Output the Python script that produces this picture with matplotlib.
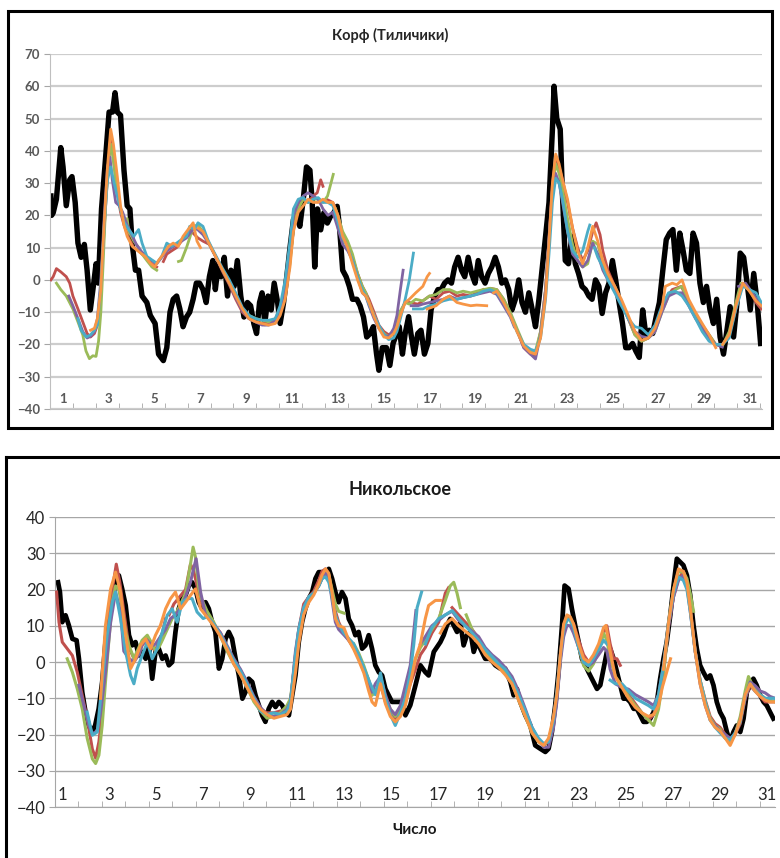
import numpy as np
import matplotlib.pyplot as plt
from matplotlib.lines import Line2D

plt.rcParams['font.family'] = ['Lato', 'Open Sans', 'DejaVu Sans']

# ---- Корф (Тиличики) : (day, temperature) pairs ----
korf_obs = [(0.47, 26), (0.5, 20), (0.57, 20.8), (0.71, 25), (0.9, 41), (1.0, 35), (1.14, 23), (1.29, 31),
            (1.39, 32), (1.53, 24), (1.65, 11.4), (1.79, 7), (1.93, 11), (2.05, 3), (2.19, -9.3), (2.34, -1),
            (2.44, 5), (2.54, -1), (2.68, 22), (2.87, 39), (3.01, 52), (3.16, 52), (3.27, 58), (3.37, 52),
            (3.51, 51), (3.66, 34), (3.8, 23), (3.92, 22), (4.02, 11), (4.16, 3), (4.3, 3), (4.45, -5),
            (4.66, -7), (4.81, -11), (5.02, -13.5), (5.17, -23), (5.38, -25), (5.53, -21), (5.67, -10),
            (5.81, -6), (5.96, -5), (6.1, -9), (6.24, -14.5), (6.39, -11.5), (6.53, -10), (6.68, -6),
            (6.82, -1), (6.96, -1), (7.11, -3), (7.25, -7), (7.39, 1), (7.54, 6), (7.65, -3), (7.78, 5),
            (7.9, 1), (8.04, 7), (8.18, -5), (8.33, 3), (8.47, -2), (8.61, 6), (8.76, -5), (8.9, -11.5),
            (9.05, -7), (9.19, -8), (9.33, -13.5), (9.45, -16.6), (9.58, -7), (9.69, -4), (9.81, -13.5),
            (9.95, -5), (10.09, -9.3), (10.22, -1), (10.37, -7), (10.48, -13.5), (10.63, -7), (10.77, 1),
            (10.91, 10), (11.06, 18.7), (11.2, 19.7), (11.34, 16.6), (11.49, 25), (11.63, 35), (11.78, 34),
            (11.88, 24), (11.99, 4), (12.11, 22), (12.25, 15.5), (12.39, 20.8), (12.54, 17.6), (12.68, 19.7),
            (12.82, 20.8), (12.97, 22.8), (13.07, 16.6), (13.21, 3), (13.36, 1), (13.5, -2), (13.64, -6),
            (13.83, -6), (13.97, -8), (14.12, -11.5), (14.26, -17.7), (14.41, -16.6), (14.55, -14.5),
            (14.69, -23), (14.79, -28), (14.94, -21), (15.12, -21), (15.27, -26.5), (15.41, -19.7),
            (15.68, -14.5), (15.82, -23), (15.94, -16.6), (16.09, -11.4), (16.19, -16.6), (16.34, -23),
            (16.49, -16.6), (16.63, -15.6), (16.78, -23), (16.93, -19.7), (17.07, -9.3), (17.22, -5.2),
            (17.37, -3), (17.51, -3), (17.66, -1), (17.81, 0), (17.96, -1), (18.1, 4), (18.25, 7), (18.4, 3),
            (18.54, 1), (18.69, 7), (18.84, 2), (18.99, -1), (19.13, 6), (19.28, 1), (19.43, -1), (19.57, 2),
            (19.72, 4), (19.87, 7), (20.01, 4), (20.16, -1), (20.31, 0), (20.46, -3), (20.6, -9.3),
            (20.75, -6), (20.9, 0), (21.04, -7), (21.19, -10), (21.34, -4), (21.49, -9.3), (21.63, -14.5),
            (21.78, -6), (21.93, 4), (22.07, 13.5), (22.22, 24), (22.37, 46.7), (22.44, 60), (22.56, 50),
            (22.71, 46.7), (22.81, 26), (22.93, 6), (23.07, 5), (23.22, 13.5), (23.37, 5), (23.51, 2),
            (23.66, -2), (23.81, -3), (23.96, -5), (24.1, -6), (24.25, 0), (24.4, -2), (24.54, -10.4),
            (24.69, -4), (24.84, -1), (24.99, 6), (25.13, 0), (25.28, -7), (25.43, -13.5), (25.57, -21),
            (25.72, -21), (25.87, -19.7), (26.01, -22), (26.16, -24), (26.31, -9.3), (26.46, -17.7),
            (26.6, -15.6), (26.75, -16.6), (26.9, -11.4), (27.04, -7), (27.19, 3), (27.34, 12.5),
            (27.49, 14.5), (27.63, 15.6), (27.78, 3), (27.93, 14.5), (28.07, 9.3), (28.22, 3), (28.37, 2),
            (28.51, 14.5), (28.66, 11.4), (28.81, -1), (28.96, -7), (29.1, -2), (29.25, -9.3), (29.4, -13.5),
            (29.54, -6), (29.69, -17.7), (29.84, -23), (29.99, -15.6), (30.13, -8.3), (30.28, -17.7),
            (30.43, -7), (30.57, 8.3), (30.72, 7), (30.87, -1), (31.01, -9.3), (31.16, 2), (31.31, -7),
            (31.46, -19.7)]

korf_red = [
    [(0.47, 0), (0.57, 1), (0.71, 3.5), (0.9, 2.5), (1.14, 1), (1.29, -1), (1.43, -5), (1.65, -9), (1.86, -13),
     (2.05, -16.6), (2.2, -17.7), (2.37, -16.6), (2.5, -14), (2.65, -3), (2.8, 16), (2.94, 32), (3.08, 44),
     (3.2, 38), (3.37, 27), (3.51, 21), (3.66, 17), (3.87, 13), (4.09, 10), (4.3, 9), (4.45, 8), (4.66, 7),
     (4.88, 5), (5.09, 4)],
    [(5.38, 5.7), (5.53, 8), (5.74, 9), (5.96, 10), (6.17, 12), (6.39, 14), (6.53, 15.5), (6.75, 14),
     (6.89, 13), (7.11, 12), (7.39, 11), (7.68, 7), (7.97, 2.5), (8.26, -1.5), (8.54, -6), (8.83, -10),
     (9.12, -12), (9.41, -13), (9.69, -13.5), (9.98, -13.5), (10.27, -12), (10.48, -9), (10.7, -2),
     (10.91, 8), (11.06, 19), (11.27, 23), (11.49, 25), (11.7, 24), (11.92, 26), (12.1, 27), (12.25, 31),
     (12.35, 29)],
    [(12.5, 25), (12.78, 24), (13.0, 20), (13.21, 14), (13.43, 11), (13.64, 7), (13.86, 2), (14.07, -2),
     (14.22, -4), (14.36, -6), (14.58, -10), (14.79, -14), (15.01, -16), (15.22, -17), (15.44, -16),
     (15.58, -14), (15.73, -10), (15.94, -7), (16.12, -7), (16.5, -7.5), (16.71, -6.5), (17.0, -5),
     (17.29, -6), (17.6, -4), (17.88, -3.5), (18.2, -5), (18.47, -4.5), (18.8, -5), (19.06, -4), (19.35, -3)],
    [(19.5, -3), (19.65, -2.6), (19.94, -3), (20.24, -6), (20.53, -10.4), (20.82, -15.6), (21.12, -21),
     (21.41, -23), (21.63, -23.4), (21.85, -16), (22.07, -3), (22.22, 13), (22.37, 30), (22.51, 37),
     (22.66, 35), (22.81, 31), (23.03, 24), (23.25, 16), (23.47, 10), (23.69, 6), (23.91, 9), (24.13, 15),
     (24.28, 17.7), (24.45, 14), (24.57, 9), (24.79, 3), (25.09, -2), (25.38, -7), (25.68, -12),
     (25.97, -17), (26.26, -19), (26.56, -18), (26.85, -15), (27.0, -12)],
    [(27.3, -6), (27.6, -3), (28.0, -2), (28.32, -7), (28.62, -11), (28.91, -14), (29.21, -17), (29.5, -20),
     (29.79, -20), (30.09, -17), (30.38, -9), (30.68, -1), (30.97, -3), (31.26, -7), (31.49, -9)],
]

korf_green = [
    [(0.71, -1), (0.9, -3), (1.14, -5), (1.43, -9), (1.65, -13), (1.86, -17), (2.0, -22), (2.15, -24.4),
     (2.3, -23.5), (2.44, -23.7), (2.55, -19), (2.65, -10), (2.75, 5), (2.87, 25), (3.0, 38), (3.1, 42),
     (3.23, 35), (3.37, 27), (3.51, 22), (3.66, 18), (3.8, 19), (3.87, 15), (4.09, 12), (4.3, 10),
     (4.45, 8), (4.66, 6), (4.88, 4), (5.09, 3)],
    [(6.04, 5.7), (6.17, 6), (6.39, 10), (6.53, 13), (6.68, 16.6), (6.89, 17), (7.11, 15), (7.39, 11),
     (7.68, 7), (7.97, 3), (8.26, -1), (8.54, -5), (8.83, -9), (9.12, -11), (9.41, -12), (9.69, -12.5),
     (9.98, -13), (10.27, -12.5), (10.48, -10), (10.7, -4), (10.91, 5), (11.06, 16), (11.27, 22),
     (11.49, 25), (11.7, 24), (11.92, 25), (12.14, 25), (12.35, 24), (12.55, 26), (12.7, 30), (12.8, 32.7)],
    [(12.9, 22), (13.0, 20), (13.21, 15), (13.43, 12), (13.64, 8), (13.86, 2), (14.07, -2), (14.22, -4),
     (14.36, -7), (14.58, -11), (14.79, -14.5), (15.01, -16.6), (15.22, -17.7), (15.44, -16.6),
     (15.58, -14), (15.73, -9.6), (15.94, -7), (16.12, -7.5), (16.4, -6), (16.71, -6.5), (17.0, -5),
     (17.29, -4.5), (17.6, -3), (17.88, -3), (18.2, -4), (18.47, -3.5), (18.8, -4), (19.06, -3.5),
     (19.35, -3), (19.65, -2.6), (19.94, -3), (20.24, -6), (20.53, -10), (20.82, -15), (21.12, -20),
     (21.41, -22), (21.63, -22), (21.85, -16), (22.07, -3), (22.22, 12), (22.37, 28), (22.51, 36),
     (22.66, 33), (22.81, 28), (23.03, 19), (23.25, 11), (23.47, 6), (23.69, 4), (23.91, 5), (24.13, 12),
     (24.35, 11), (24.57, 5), (24.79, 1), (25.09, -2), (25.38, -7), (25.68, -12), (25.97, -17),
     (26.26, -19), (26.56, -18), (26.85, -16), (27.15, -10), (27.44, -5), (27.74, -3), (28.03, -2),
     (28.32, -7), (28.62, -11), (28.91, -14), (29.21, -17), (29.5, -20), (29.79, -20.5), (30.09, -16),
     (30.38, -7), (30.6, -1), (30.97, -3), (31.26, -6), (31.49, -8)],
]

korf_purple = [
    [(1.25, -5), (1.43, -8), (1.65, -12), (1.86, -16), (2.05, -18), (2.2, -17.5), (2.37, -16), (2.5, -12),
     (2.65, 0), (2.8, 20), (2.94, 35), (3.05, 38), (3.15, 31), (3.3, 24), (3.45, 23), (3.6, 21), (3.8, 17),
     (4.0, 14), (4.2, 11), (4.4, 9), (4.66, 7), (4.88, 6), (5.09, 5), (5.31, 7), (5.53, 9), (5.74, 10),
     (5.96, 11), (6.17, 12), (6.39, 13), (6.6, 15), (6.75, 16), (6.89, 15.5), (7.11, 14), (7.39, 11),
     (7.68, 7), (7.97, 3), (8.26, -1), (8.54, -5.5), (8.83, -9.5), (9.12, -12), (9.41, -13), (9.69, -14),
     (9.98, -14), (10.27, -12.5), (10.48, -9), (10.7, -2), (10.91, 9), (11.06, 20), (11.27, 24),
     (11.49, 26), (11.7, 27), (11.92, 26), (12.14, 25), (12.35, 22), (12.57, 20), (12.78, 21), (13.0, 16),
     (13.21, 11), (13.43, 9), (13.64, 6), (13.86, 1), (14.07, -4), (14.22, -5), (14.36, -8), (14.58, -12),
     (14.79, -15), (15.01, -17), (15.22, -17.7), (15.44, -15), (15.58, -11), (15.73, -3), (15.85, 3)],
    [(16.2, -8), (16.5, -8), (16.71, -7.5), (17.0, -7), (17.29, -6.5), (17.6, -6), (17.88, -5), (18.2, -6),
     (18.47, -5.5), (18.8, -5), (19.06, -4.5), (19.35, -4), (19.65, -3.5), (19.94, -4.5), (20.24, -8),
     (20.53, -11.5), (20.7, -14.5)],
    [(20.9, -17), (21.12, -21), (21.41, -23), (21.63, -24.5), (21.85, -17), (22.07, -3), (22.22, 13),
     (22.37, 28), (22.51, 33), (22.66, 30), (22.81, 24), (23.03, 15), (23.25, 8), (23.47, 6), (23.69, 4),
     (23.91, 6), (24.13, 11.4), (24.35, 8), (24.57, 3), (24.79, 0), (25.09, -3), (25.38, -7),
     (25.68, -12), (25.97, -16), (26.26, -17.5), (26.56, -18), (26.85, -16), (27.15, -10), (27.44, -5),
     (27.74, -4), (28.03, -4), (28.32, -8), (28.62, -12), (28.91, -15), (29.21, -18), (29.5, -20),
     (29.79, -20.8)],
    [(30.5, -2), (30.8, -1), (31.1, -4), (31.49, -8)],
]

korf_cyan = [
    [(1.65, -12), (1.79, -15.6), (2.01, -17.7), (2.2, -17), (2.37, -15.6), (2.5, -14), (2.65, -2), (2.8, 17),
     (2.94, 31), (3.08, 35), (3.23, 30), (3.37, 26), (3.51, 22), (3.66, 18), (3.87, 15.6), (4.09, 13.5),
     (4.3, 15.6), (4.45, 11.4), (4.66, 7.3), (4.88, 6.2), (5.09, 5.2), (5.31, 7.3), (5.53, 11.4),
     (5.74, 10.4), (5.96, 11.4), (6.17, 12.5), (6.39, 13.5), (6.53, 16.6), (6.75, 15.6), (6.89, 17.7),
     (7.11, 16.6), (7.32, 12.5), (7.54, 9.3), (7.97, 3.5), (8.26, 0), (8.54, -4), (8.83, -8.5),
     (9.12, -11), (9.41, -12), (9.69, -12.5), (9.98, -12.5), (10.27, -12), (10.48, -8), (10.7, 0),
     (10.91, 12), (11.06, 22), (11.27, 25), (11.49, 25.5), (11.7, 24), (11.92, 25), (12.14, 25.5),
     (12.35, 24), (12.57, 24), (12.78, 23), (13.0, 18), (13.21, 13), (13.43, 10), (13.64, 6), (13.86, 1),
     (14.07, -3), (14.22, -5), (14.36, -7.5), (14.58, -11), (14.79, -14), (15.01, -17), (15.22, -18.5),
     (15.44, -18), (15.58, -16), (15.73, -12), (15.94, -6), (16.12, 0), (16.3, 8.3)],
    [(16.3, -9), (16.71, -9), (17.0, -8), (17.29, -7.5), (17.6, -6.5), (17.88, -6), (18.2, -6),
     (18.47, -5.5), (18.8, -5), (19.06, -4.5), (19.35, -3.5), (19.65, -3), (19.94, -4), (20.24, -7),
     (20.53, -11), (20.82, -16), (21.12, -20), (21.41, -21.5), (21.63, -22), (21.85, -18), (22.07, -6),
     (22.22, 8), (22.37, 24), (22.51, 31.5), (22.66, 30), (22.81, 25), (23.03, 15), (23.25, 9),
     (23.47, 7), (23.69, 9), (23.91, 15), (24.0, 17)],
    [(24.2, 10), (24.35, 7), (24.57, 4), (24.79, 0), (25.09, -4), (25.38, -8), (25.68, -12), (25.97, -14.5),
     (26.26, -15), (26.56, -17), (26.85, -14), (27.15, -8), (27.44, -4), (27.74, -3.5), (28.03, -5),
     (28.32, -8), (28.62, -12), (28.91, -16), (29.21, -19), (29.5, -20), (29.79, -20), (30.09, -18),
     (30.38, -9), (30.68, -2), (30.97, -3), (31.26, -4), (31.49, -7)],
]

korf_orange = [
    [(2.2, -15.6), (2.37, -15), (2.5, -12), (2.65, -3), (2.8, 18), (2.94, 35), (3.08, 46.7), (3.2, 42),
     (3.37, 32), (3.51, 23), (3.66, 17), (3.8, 13.5), (4.02, 10.4), (4.3, 8.8), (4.58, 7.3), (4.81, 5.2),
     (5.0, 4), (5.17, 6), (5.38, 8), (5.6, 10.4), (5.81, 11.4), (6.03, 10.4), (6.24, 13.5), (6.46, 15.6),
     (6.68, 17.7), (6.85, 12), (7.0, 10)],
    [(6.9, 16), (7.11, 15), (7.39, 11), (7.68, 7), (7.97, 3), (8.26, -1), (8.54, -5), (8.83, -9), (9.12, -12),
     (9.41, -13), (9.69, -13.5), (9.98, -14), (10.27, -13.5), (10.48, -11), (10.7, -6), (10.91, 4),
     (11.06, 15), (11.27, 21), (11.49, 23), (11.7, 25), (11.92, 24), (12.14, 24), (12.35, 25),
     (12.57, 24), (12.78, 24), (13.0, 20), (13.21, 13.5), (13.43, 10), (13.64, 5), (13.86, 0),
     (14.07, -4), (14.22, -5), (14.36, -7), (14.58, -11.4), (14.79, -15), (15.01, -17.7), (15.22, -18),
     (15.44, -16.6), (15.58, -14.5), (15.73, -11), (15.94, -7), (16.12, -6), (16.4, -4), (16.71, -2),
     (16.9, 1), (17.0, 2)],
    [(16.9, -9), (17.29, -8), (17.6, -6), (17.88, -5), (18.2, -7), (18.47, -7.5), (18.8, -8), (19.06, -7.8),
     (19.5, -8)],
    [(19.8, -4), (19.94, -3.5), (20.24, -7), (20.53, -11), (20.82, -16), (21.12, -20.5), (21.41, -22.5),
     (21.63, -23), (21.85, -18), (22.07, -5), (22.22, 12), (22.37, 30), (22.51, 39), (22.66, 36),
     (22.81, 31), (23.03, 25), (23.25, 16), (23.47, 9), (23.69, 5), (23.91, 10), (24.13, 16.6),
     (24.35, 12), (24.57, 6), (24.79, 2), (25.09, -2), (25.38, -6), (25.68, -11), (25.97, -16),
     (26.26, -18.7), (26.56, -18), (26.85, -15), (27.15, -9), (27.3, -2), (27.6, -1), (27.8, -1.5),
     (28.03, 0), (28.32, -6), (28.62, -10), (28.91, -13.5), (29.21, -17), (29.5, -21)],
    [(29.8, -20), (30.09, -17), (30.38, -8), (30.68, -1), (30.97, -3.5), (31.26, -6.5), (31.49, -8)],
]

# ---- Никольское ----
nik_obs = [(0.82, 22), (0.9, 19.3), (1.0, 11), (1.14, 12.9), (1.28, 10.1), (1.43, 6.4), (1.61, 6), (1.71, 0.9),
           (1.85, -8.3), (1.99, -13.8), (2.13, -17.5), (2.26, -19.3), (2.4, -17.5), (2.55, -12.9), (2.7, -5.5),
           (2.84, 5.5), (2.99, 13.8), (3.13, 17.5), (3.27, 22), (3.41, 23.9), (3.55, 20.2), (3.7, 15.6),
           (3.84, 7.4), (3.98, 4.6), (4.12, 5.5), (4.26, 1.8), (4.41, 2.8), (4.55, 0.9), (4.69, 4.6),
           (4.83, -4.6), (4.97, 2.8), (5.11, 3.7), (5.26, 0.9), (5.4, 1.8), (5.54, -0.9), (5.68, 0),
           (5.82, 8.3), (5.96, 14.7), (6.11, 17.5), (6.25, 18.4), (6.39, 21.1), (6.53, 22), (6.67, 20.2),
           (6.81, 16.5), (6.96, 14.7), (7.1, 16.5), (7.24, 14.7), (7.38, 11), (7.52, 8.3), (7.67, -1.8),
           (7.81, 0.9), (7.95, 6.4), (8.09, 8.3), (8.23, 6.4), (8.38, 0.9), (8.52, -3.7), (8.67, -10.1),
           (8.8, -8.3), (8.94, -4.6), (9.09, -5.5), (9.23, -9.2), (9.37, -11.9), (9.51, -14.7), (9.65, -16.5),
           (9.79, -12.9), (9.94, -11), (10.08, -12.4), (10.22, -11), (10.36, -11.9), (10.5, -13.8),
           (10.65, -14.7), (10.79, -9.2), (10.93, -3.7), (11.07, 5.5), (11.21, 11), (11.35, 14.7),
           (11.5, 17.5), (11.64, 19.3), (11.78, 23), (11.92, 24.8), (12.06, 24.8), (12.21, 23.9),
           (12.35, 25.7), (12.49, 23), (12.63, 19.3), (12.77, 16.5), (12.91, 19.3), (13.06, 17.5),
           (13.2, 11.9), (13.34, 10.1), (13.48, 7.4), (13.62, 8.3), (13.77, 3.7), (13.91, 4.6), (14.05, 7.4),
           (14.19, 3.7), (14.33, -0.9), (14.48, -2.8), (14.62, -3.7), (14.76, -7.4), (14.9, -9.2),
           (15.04, -11), (15.26, -11), (15.47, -11), (15.61, -14.7), (15.82, -11.9), (16.04, -6.4),
           (16.25, -0.9), (16.46, -2.8), (16.6, -3.7), (16.82, 2.8), (17.1, 5.5), (17.24, 7.4), (17.38, 10.1),
           (17.52, 11.9), (17.67, 10.1), (17.81, 8.3), (17.95, 11), (18.09, 4.6), (18.23, 7.4), (18.38, 8.3),
           (18.52, 2.8), (18.66, 5.5), (18.8, 3.7), (19.01, 0.9), (19.23, 0.9), (19.44, -0.9), (19.65, -1.8),
           (19.86, -1.8), (20.08, -5.5), (20.22, -9.2), (20.36, -7.4), (20.5, -11), (20.72, -14.7),
           (20.93, -17.5), (21.14, -23), (21.35, -23.9), (21.57, -24.8), (21.71, -23.9), (21.85, -19.3),
           (21.99, -12), (22.13, -2.8), (22.28, 10.1), (22.39, 21.1), (22.56, 20.2), (22.7, 14.7),
           (22.84, 10.1), (22.99, 5.5), (23.13, 0.9), (23.27, -0.9), (23.41, -2.8), (23.62, -5.5),
           (23.77, -7.4), (23.91, -6.4), (24.05, -1.8), (24.19, 2.8), (24.33, 3.7), (24.48, 0.9),
           (24.62, -2.8), (24.76, -6.4), (24.9, -10.1), (25.04, -10.1), (25.18, -11), (25.33, -12.9),
           (25.47, -12.9), (25.61, -14.7), (25.75, -16.5), (25.89, -16.5), (26.04, -15.6), (26.18, -13.8),
           (26.32, -11), (26.46, -4.6), (26.6, 0.9), (26.74, 5.5), (26.89, 12.9), (27.03, 21.1), (27.17, 28.5),
           (27.31, 27.6), (27.45, 26.7), (27.6, 23.9), (27.74, 18.4), (27.88, 10.1), (28.02, 3.7),
           (28.16, -0.9), (28.3, -2.8), (28.45, -4.6), (28.59, -3.7), (28.73, -6.4), (28.87, -11),
           (29.01, -13.8), (29.16, -15.6), (29.3, -19.3), (29.44, -22), (29.58, -19.3), (29.72, -17.5),
           (29.87, -19.3), (30.01, -15.6), (30.15, -8.3), (30.29, -6.4), (30.43, -4.6), (30.57, -6.4),
           (30.72, -9.2), (30.86, -11), (31.0, -12), (31.14, -13.8), (31.28, -15.6)]

nik_red = [
    [(0.76, 19.3), (0.86, 11), (1.0, 5.5), (1.21, 3.7), (1.43, 1.8), (1.64, -2.8), (1.85, -9.2), (2.06, -15.6),
     (2.28, -24), (2.42, -26.5), (2.56, -22), (2.7, -13.8), (2.84, -1), (2.99, 12), (3.13, 20), (3.3, 27),
     (3.45, 22), (3.62, 14), (3.84, 4), (4.05, 1), (4.26, 2), (4.4, 4.6), (4.62, 6.4), (4.83, 4), (4.97, 3),
     (5.11, 6), (5.26, 8), (5.4, 12)],
    [(5.55, 13), (5.75, 16), (6.0, 18), (6.25, 20), (6.46, 27), (6.6, 25), (6.74, 21), (6.89, 17), (7.17, 13),
     (7.45, 10.5), (7.74, 8), (8.02, 4), (8.3, 0.5), (8.59, -2.5), (8.87, -6), (9.16, -10), (9.44, -13),
     (9.72, -14), (10.01, -14), (10.29, -13.5), (10.57, -13), (10.72, -11), (10.93, 2), (11.07, 9),
     (11.28, 16), (11.5, 18), (11.71, 19.5), (11.92, 22.5), (12.06, 25), (12.21, 25.7), (12.35, 24),
     (12.49, 19), (12.63, 14), (12.77, 11), (12.99, 8), (13.2, 6), (13.41, 4), (13.62, 1.5), (13.84, -2),
     (14.05, -5), (14.19, -9), (14.33, -8), (14.55, -6), (14.76, -11), (14.97, -14), (15.18, -16),
     (15.4, -14), (15.61, -10.5), (15.82, -6), (16.04, -2), (16.25, 2), (16.46, 4), (16.74, 8), (17.03, 11),
     (17.2, 16), (17.31, 19), (17.45, 20.5)],
    [(17.6, 15), (17.88, 13), (18.16, 11), (18.45, 9), (18.73, 6.5), (19.01, 3.5), (19.3, 1.5), (19.58, -0.5),
     (19.86, -2.5), (20.15, -5), (20.43, -9.5), (20.72, -14), (21.0, -19), (21.28, -21.5), (21.5, -23),
     (21.71, -22), (21.92, -16), (22.06, -9), (22.21, 2), (22.35, 10), (22.49, 12.5), (22.63, 12),
     (22.77, 10.5), (22.99, 6), (23.2, 2), (23.41, 0), (23.62, 1), (23.84, 4), (24.05, 8), (24.19, 10),
     (24.33, 5), (24.48, 1), (24.62, 0.9), (24.76, -0.9)],
    [(24.8, -6), (25.11, -9), (25.4, -11.5), (25.68, -14), (25.96, -16), (26.18, -14.5), (26.39, -11),
     (26.6, -3), (26.82, 10), (27.03, 18), (27.24, 23), (27.45, 25), (27.6, 22), (27.74, 15), (27.95, 3),
     (28.16, -5), (28.38, -10.5), (28.59, -15), (28.8, -17), (29.01, -18), (29.23, -20), (29.44, -22),
     (29.65, -20), (29.87, -17), (30.08, -10), (30.29, -6.5), (30.5, -8), (30.72, -9.5), (30.93, -11),
     (31.14, -11), (31.35, -11)],
]

nik_green = [
    [(1.21, 0.9), (1.43, -2.8), (1.64, -7.4), (1.85, -12.9), (2.06, -21), (2.28, -26.7), (2.42, -28),
     (2.56, -25.7), (2.7, -17.5), (2.84, -5.5), (2.99, 6.4), (3.13, 16.5), (3.27, 21), (3.41, 20),
     (3.55, 14.7), (3.7, 8.3), (3.84, 4.6), (4.05, 1), (4.26, 4), (4.4, 6), (4.62, 7.4), (4.83, 5), (4.97, 3),
     (5.11, 4), (5.26, 6), (5.47, 9), (5.68, 12), (5.89, 14), (6.04, 16), (6.25, 19), (6.46, 27),
     (6.57, 31.7), (6.67, 29), (6.8, 21), (6.89, 18), (7.17, 14), (7.45, 11), (7.74, 7), (8.02, 3),
     (8.3, -0.5), (8.59, -3.5), (8.87, -7), (9.16, -11), (9.44, -13.5), (9.72, -15.5), (10.01, -15),
     (10.29, -14), (10.57, -12), (10.72, -10), (10.93, 1), (11.07, 7), (11.28, 14), (11.5, 18), (11.71, 19),
     (11.92, 21), (12.06, 23), (12.21, 25), (12.35, 24), (12.49, 20), (12.63, 16), (12.77, 14),
     (12.99, 13.5)],
    [(13.41, 5), (13.62, 2.5), (13.84, -1), (14.05, -5), (14.19, -9.2), (14.33, -8), (14.55, -6), (14.76, -10),
     (14.97, -13), (15.18, -15), (15.4, -13), (15.61, -9), (15.82, -4), (16.04, 0.9), (16.25, 4), (16.46, 6),
     (16.74, 9), (17.03, 12), (17.31, 17), (17.52, 21), (17.67, 22), (17.81, 19), (17.95, 15)],
    [(18.2, 13), (18.45, 9), (18.73, 6), (19.01, 3), (19.3, 1), (19.58, -1), (19.86, -3), (20.15, -6),
     (20.43, -10.5), (20.72, -15), (21.0, -19.5), (21.28, -22), (21.5, -23), (21.71, -21.5), (21.92, -16),
     (22.06, -10), (22.21, 1), (22.35, 9), (22.49, 12), (22.63, 11.5), (22.77, 9), (22.99, 4), (23.2, -1),
     (23.41, -2.5), (23.62, -0.5), (23.84, 3), (24.05, 8), (24.19, 6), (24.33, 1), (24.55, -4),
     (24.83, -6.5), (25.11, -9.5), (25.4, -12), (25.68, -14), (25.96, -16), (26.18, -17.5), (26.39, -13),
     (26.6, -4), (26.82, 11), (27.03, 20), (27.24, 25), (27.45, 24.8), (27.6, 23), (27.74, 19),
     (27.88, 14)],
    [(28.16, -5), (28.38, -11), (28.59, -15.5), (28.8, -17.5), (29.01, -18.5), (29.23, -21), (29.44, -22),
     (29.65, -20), (29.87, -15), (30.08, -8), (30.22, -4), (30.36, -6), (30.5, -7.5), (30.72, -9),
     (30.93, -10), (31.14, -10.5), (31.35, -11)],
]

nik_purple = [
    [(1.71, -6.4), (1.92, -12), (2.13, -17.5), (2.28, -19.8), (2.49, -19), (2.63, -14), (2.84, -3), (3.06, 11),
     (3.27, 19.3), (3.48, 13.8), (3.62, 3), (3.84, 1), (4.05, 0), (4.26, 2), (4.4, 5), (4.62, 6), (4.83, 4.5),
     (4.97, 5), (5.18, 7), (5.4, 9), (5.61, 12), (5.82, 13), (6.04, 15), (6.25, 18), (6.46, 22), (6.6, 26),
     (6.7, 28.5), (6.89, 19.3), (7.1, 13), (7.45, 10.5), (7.74, 8), (8.02, 4.5), (8.3, 1), (8.59, -2),
     (8.87, -5.5), (9.16, -9.5), (9.44, -12.5), (9.72, -14.5), (10.01, -15), (10.29, -14.5), (10.57, -13),
     (10.72, -11), (10.93, 3), (11.07, 9), (11.28, 15), (11.5, 18), (11.71, 19), (11.92, 21), (12.06, 23),
     (12.21, 24.5), (12.35, 23), (12.49, 17), (12.63, 11), (12.77, 9), (12.99, 7.5), (13.2, 6), (13.41, 4),
     (13.62, 1), (13.84, -2.5), (14.05, -6), (14.19, -8.3), (14.33, -6), (14.55, -4), (14.76, -9),
     (14.97, -13), (15.18, -14.5), (15.4, -12), (15.54, -8.3), (15.82, -0.9), (16.06, 14.2)],
    [(16.25, 5), (16.46, 7), (16.74, 10), (17.03, 11.5), (17.31, 13), (17.6, 14), (17.88, 11.5), (18.16, 10),
     (18.45, 8.5), (18.73, 7), (19.01, 4), (19.3, 2), (19.58, 0.5), (19.86, -1.5), (20.15, -4), (20.43, -8),
     (20.72, -13), (21.0, -18), (21.28, -21.5), (21.5, -23.5), (21.71, -23.5), (21.92, -18), (22.06, -11),
     (22.21, 0), (22.35, 7), (22.49, 10.1), (22.63, 10), (22.77, 8), (22.99, 4), (23.2, 0), (23.41, -1),
     (23.62, 0), (23.84, 2), (24.05, 4), (24.19, 3), (24.33, -2), (24.55, -6), (24.83, -7), (25.11, -7.5),
     (25.4, -9), (25.68, -10), (25.96, -11), (26.18, -12), (26.39, -9), (26.6, -1), (26.82, 10),
     (27.03, 18), (27.24, 22.5), (27.45, 24), (27.6, 21), (27.74, 14), (27.95, 3), (28.16, -6),
     (28.38, -12), (28.59, -16), (28.8, -17.5), (29.01, -19), (29.23, -20), (29.44, -21), (29.65, -20),
     (29.87, -16), (30.08, -10), (30.29, -5.5), (30.5, -6.5), (30.72, -8), (30.93, -8.5), (31.14, -9.5),
     (31.35, -10)],
]

nik_cyan = [
    [(2.06, -13.8), (2.28, -20.2), (2.49, -19.3), (2.7, -5.5), (2.91, 7.4), (3.13, 16.5), (3.27, 19.3),
     (3.48, 12), (3.7, 2.8), (3.91, -3.7), (4.05, -6), (4.19, -1.8), (4.4, 1.8), (4.62, 5.5), (4.83, 0.9),
     (5.04, 3.7), (5.26, 8.3), (5.47, 12.9), (5.68, 14.7), (5.89, 11), (6.11, 16.5), (6.32, 17.5),
     (6.53, 17.5), (6.74, 13.8), (7.0, 12), (7.17, 12.5), (7.45, 10.5), (7.74, 7.5), (8.02, 4), (8.3, 0.5),
     (8.59, -2.5), (8.87, -6), (9.16, -10), (9.44, -13.5), (9.72, -14.5), (10.01, -14), (10.29, -14.5),
     (10.57, -13.5), (10.72, -11), (10.93, 2), (11.07, 9), (11.28, 15), (11.5, 18), (11.71, 19),
     (11.92, 21), (12.06, 23), (12.21, 23.5), (12.35, 22), (12.49, 18), (12.63, 13), (12.77, 10.5),
     (12.99, 8), (13.2, 6.5), (13.41, 5), (13.62, 2), (13.84, -1.5), (14.05, -5), (14.19, -7), (14.33, -9),
     (14.55, -3), (14.76, -10), (14.97, -14.5), (15.18, -17.5), (15.4, -14), (15.61, -10), (15.82, -3),
     (15.97, 5), (16.11, 15), (16.3, 19.3)],
    [(16.46, 5), (16.74, 9.5), (17.03, 12), (17.31, 13), (17.6, 14.2), (17.88, 12), (18.16, 10), (18.45, 8),
     (18.73, 6), (19.01, 3.5), (19.3, 1.5), (19.58, -0.5), (19.86, -2), (20.15, -5), (20.43, -9),
     (20.72, -13.5), (21.0, -18), (21.28, -21), (21.5, -22.5), (21.71, -22), (21.92, -16), (22.06, -8),
     (22.21, 2), (22.35, 9), (22.49, 11.5), (22.63, 11.8), (22.77, 9.5), (22.99, 4), (23.2, 0),
     (23.41, -1), (23.62, 1), (23.84, 3.5), (24.05, 6), (24.19, 5)],
    [(24.33, -5), (24.55, -6), (24.83, -6), (25.11, -8), (25.4, -10), (25.68, -11), (25.96, -12),
     (26.18, -13), (26.39, -9), (26.6, -1), (26.82, 11), (27.03, 19), (27.24, 23.5), (27.45, 22.5),
     (27.6, 20), (27.74, 14), (27.95, 3), (28.16, -5), (28.38, -11), (28.59, -16), (28.8, -18),
     (29.01, -19.5), (29.23, -21), (29.44, -21.5), (29.65, -19.5), (29.87, -16.5), (30.08, -9),
     (30.29, -6), (30.5, -8), (30.72, -9), (30.93, -10), (31.14, -10), (31.35, -10)],
]

nik_orange = [
    [(2.63, -10), (2.84, 10.1), (3.06, 20.2), (3.27, 24.8), (3.48, 19.3), (3.7, 7.4), (3.91, -1.8), (4.12, 0.9),
     (4.33, 4.6), (4.55, 6.4), (4.76, 3.7), (4.97, 7.4), (5.18, 10.1), (5.4, 14.7), (5.61, 17.5),
     (5.82, 19.3), (6.04, 14.7), (6.25, 16.5), (6.46, 18.4), (6.67, 20.2), (6.89, 14.7), (7.1, 12.9),
     (7.45, 10), (7.74, 7), (8.02, 3.5), (8.3, -0.5), (8.59, -3.5), (8.87, -7), (9.16, -10.5), (9.44, -13),
     (9.72, -14.5), (10.01, -15.5), (10.29, -15), (10.57, -14.5), (10.72, -13), (10.93, -3), (11.07, 5),
     (11.28, 13), (11.5, 16.5), (11.71, 18.5), (11.92, 21.5), (12.06, 24), (12.21, 25.7), (12.35, 24.5),
     (12.49, 19), (12.63, 12), (12.77, 10), (12.99, 9.5), (13.2, 6), (13.41, 3.5), (13.62, 0.5),
     (13.84, -3), (14.05, -8), (14.19, -11), (14.33, -12), (14.55, -6), (14.76, -11.5), (14.97, -15),
     (15.18, -16.5), (15.4, -15), (15.61, -12), (15.82, -6), (16.04, 1), (16.25, 5), (16.46, 12),
     (16.6, 15.6), (16.89, 17), (17.1, 17)],
    [(17.1, 8), (17.31, 10.5), (17.6, 12), (17.88, 10), (18.16, 8.5), (18.45, 7), (18.73, 5), (19.01, 2),
     (19.3, 0), (19.58, -1.5), (19.86, -3.5), (20.15, -6), (20.43, -10.5), (20.72, -15), (21.0, -19.5),
     (21.28, -22), (21.5, -23), (21.71, -21), (21.92, -15), (22.06, -9), (22.21, 2), (22.35, 10.5),
     (22.49, 13), (22.63, 12.5), (22.77, 10.5), (22.99, 5), (23.2, 1), (23.41, 0), (23.62, 2), (23.84, 5),
     (24.05, 9.5), (24.15, 10.1), (24.33, 3), (24.55, -4), (24.83, -7), (25.11, -10), (25.4, -12.5),
     (25.68, -14), (25.96, -15), (26.18, -14.5), (26.39, -12), (26.55, -7), (26.9, 0.9)],
    [(26.6, -2), (26.82, 11), (27.03, 20), (27.24, 25.7), (27.45, 25), (27.6, 22), (27.74, 15), (27.95, 3),
     (28.16, -6), (28.38, -12), (28.59, -16), (28.8, -18), (29.01, -19), (29.23, -21), (29.44, -23),
     (29.65, -20), (29.87, -16), (30.08, -9), (30.29, -6), (30.5, -8), (30.72, -9.5), (30.93, -10.5),
     (31.14, -11), (31.35, -11)],
]

day_labels = list(range(1, 32, 2))
colors = ['#C0504D', '#9BBB59', '#8064A2', '#4BACC6', '#F79646']


def join(segments):
    xs, ys = [], []
    for seg in segments:
        xs += [p[0] for p in seg] + [np.nan]
        ys += [p[1] for p in seg] + [np.nan]
    return xs, ys


fig = plt.figure(figsize=(7.8, 8.58), dpi=100)

# frames around the two charts
fig.add_artist(plt.Rectangle((0.0103, 0.5012), 0.9794, 0.486, transform=fig.transFigure,
                             fill=False, lw=2.2, ec='black'))
fig.add_artist(Line2D([0.0077, 1.0], [0.4674, 0.4674], transform=fig.transFigure, lw=2.2, color='black'))
fig.add_artist(Line2D([0.0077, 0.0077], [0.4674, 0.0], transform=fig.transFigure, lw=2.2, color='black'))

# ---- top chart ----
ax1 = fig.add_axes([0.0641, 0.5233, 0.9128, 0.4138])
ax1.plot([p[0] for p in korf_obs], [p[1] for p in korf_obs], color='black', lw=3.9, zorder=2,
         solid_joinstyle='round')
for segs, c in zip([korf_red, korf_green, korf_purple, korf_cyan, korf_orange], colors):
    x, y = join(segs)
    ax1.plot(x, y, color=c, lw=2.0, zorder=3)
ax1.set_xlim(0.43, 31.52)
ax1.set_ylim(-40, 70)
ax1.set_yticks(range(-40, 71, 10))
ax1.grid(axis='y', color='#CDCDCD', lw=1.6, zorder=0)
ax1.set_axisbelow(True)
ax1.set_xticks([])
ax1.set_xticks([d + 0.44 for d in range(0, 32)], minor=True)
ax1.tick_params(axis='x', which='minor', direction='in', length=4, color='#A6A6A6')
ax1.tick_params(axis='y', direction='out', length=4, color='#A6A6A6', labelsize=9.5, labelcolor='#595959', pad=3)
for lab in ax1.get_yticklabels():
    lab.set_fontweight('bold')
for d in day_labels:
    ax1.text(d, -36.9, str(d), ha='center', va='center', fontsize=9.5, fontweight='bold', color='#595959')
for s in ['top', 'right']:
    ax1.spines[s].set_visible(False)
ax1.spines['left'].set_color('#BFBFBF')
ax1.spines['bottom'].set_color('#BFBFBF')
fig.text(0.5, 0.959, 'Корф (Тиличики)', ha='center', va='center', fontsize=10.5, fontweight='bold',
         color='#262626')

# ---- bottom chart ----
ax2 = fig.add_axes([0.0705, 0.0594, 0.9231, 0.338])
ax2.plot([p[0] for p in nik_obs], [p[1] for p in nik_obs], color='black', lw=3.4, zorder=2,
         solid_joinstyle='round')
for segs, c in zip([nik_red, nik_green, nik_purple, nik_cyan, nik_orange], colors):
    x, y = join(segs)
    ax2.plot(x, y, color=c, lw=2.2, zorder=3)
ax2.set_xlim(0.715, 31.35)
ax2.set_ylim(-40, 40)
ax2.set_yticks(range(-40, 41, 10))
ax2.grid(axis='y', color='#A6A6A6', lw=1.0, zorder=0)
ax2.set_axisbelow(True)
ax2.set_xticks([])
ax2.set_xticks([d + 0.69 for d in range(0, 31)], minor=True)
ax2.tick_params(axis='x', which='minor', direction='in', length=4, color='#A6A6A6')
ax2.tick_params(axis='y', direction='out', length=4, color='#A6A6A6', labelsize=12, labelcolor='#262626', pad=3)
for d in day_labels:
    ax2.text(d, -36.7, str(d), ha='center', va='center', fontsize=12, color='#262626')
for s in ['top', 'right']:
    ax2.spines[s].set_visible(False)
ax2.spines['left'].set_color('#A6A6A6')
ax2.spines['bottom'].set_color('#A6A6A6')
fig.text(0.513, 0.429, 'Никольское', ha='center', va='center', fontsize=13, fontweight='bold', color='#1a1a1a')
fig.text(0.532, 0.0326, 'Число', ha='center', va='center', fontsize=11, fontweight='bold', color='#1a1a1a')

fig.savefig('out.png', dpi=100)
